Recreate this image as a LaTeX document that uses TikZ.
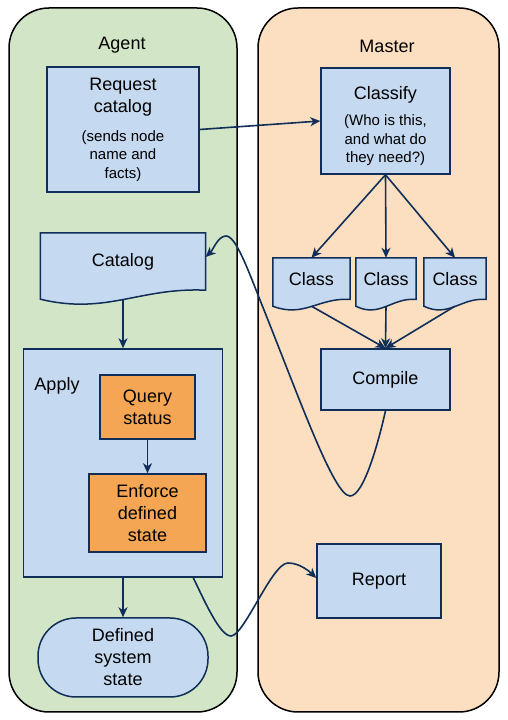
\documentclass[tikz,border=0pt]{standalone}
\usepackage{fontspec}
\setmainfont{Liberation Sans}
\usetikzlibrary{arrows.meta,calc}

\definecolor{navy}{RGB}{16,46,88}
\definecolor{boxblue}{RGB}{197,217,240}
\definecolor{taskorange}{RGB}{244,166,84}
\definecolor{agentgreen}{RGB}{210,230,199}
\definecolor{masterpeach}{RGB}{251,223,192}

\pgfdeclarelayer{panel}
\pgfdeclarelayer{back}
\pgfsetlayers{panel,back,main}

\newcommand\subtext{\fontsize{15}{18.5}\selectfont}

\begin{document}
\begin{tikzpicture}[x=1pt,y=1pt]
  \tikzstyle{every node}=[font=\fontsize{18}{22}\selectfont,align=center,inner sep=0pt]
  \tikzstyle{sidepanel}=[draw=black,line width=1.5pt,rounded corners=40pt,minimum width=228,minimum height=704]
  \tikzstyle{stepbox}=[draw=navy,fill=boxblue,line width=1.5pt]
  \tikzstyle{taskbox}=[stepbox,fill=taskorange]
  \tikzstyle{docline}=[draw=navy,fill=boxblue,line width=1.5pt]
  \tikzstyle{flow}=[draw=navy,line width=1.6pt,-{Stealth[length=10pt,width=9pt,inset=3pt]}]

  \useasboundingbox (0,0) rectangle (508,720);

  \begin{pgfonlayer}{panel}
    \node[sidepanel,fill=agentgreen] (agentside) at (123,360) {};
    \node[sidepanel,fill=masterpeach,minimum width=241] (masterside) at (378.5,360) {};
  \end{pgfonlayer}

  \node (agentlabel) at (122,675) {Agent};
  \node (masterlabel) at (387,674) {Master};

  \node[stepbox,minimum width=152,minimum height=125] (request) at (123,590.5)
    {Request\\catalog\\[7pt]\subtext (sends node\\[-3.5pt]\subtext name and\\[-3.5pt]\subtext facts)};
  \node[stepbox,minimum width=129,minimum height=106] (classify) at (385.5,599)
    {\rule{0pt}{24pt}Classify\\[4pt]\subtext (Who is this,\\[-3.5pt]\subtext and what do\\[-3.5pt]\subtext they need?)};

  \node[minimum width=165,minimum height=58] (catalog) at (123,458) {Catalog};
  \node[minimum width=77,minimum height=42] (classA) at (311.5,441) {Class};
  \node[minimum width=60,minimum height=42] (classB) at (386,441) {Class};
  \node[minimum width=62,minimum height=42] (classC) at (455,441) {Class};

  \node[stepbox,minimum width=129,minimum height=61] (compile) at (385.5,340.5) {Compile};
  \node[stepbox,minimum width=199,minimum height=228] (apply) at (123,257) {};
  \node (applylabel) at (57,334) {Apply};
  \node[taskbox,minimum width=95,minimum height=64] (query) at (147.5,313) {Query\\status};
  \node[taskbox,minimum width=117,minimum height=78] (enforce) at (147.5,207) {Enforce\\defined\\state};
  \node[stepbox,rounded corners=38pt,minimum width=170,minimum height=79] (defined) at (123,62.5)
    {Defined\\system\\state};
  \node[stepbox,minimum width=124,minimum height=74] (report) at (379,139) {Report};

  \begin{pgfonlayer}{back}
    \foreach \n/\s in {catalog/1,classA/0.75,classB/0.75,classC/0.75}
      \draw[docline] (\n.north west) -- (\n.north east) -- ($(\n.south east)+(0,\s)$)
        .. controls ($(\n.south east)!0.4!(\n.south west)+(0,4*\s)$)
        and ($(\n.south east)!0.6!(\n.south west)+(0,-24*\s)$)
        .. ($(\n.south west)+(0,-8*\s)$) -- cycle;
  \end{pgfonlayer}

  \draw[flow] (request.east) -- (classify.west);
  \foreach \c in {classA,classB,classC}
    \draw[flow] (classify.south) -- (\c.north);
  \foreach \c in {classA,classB,classC}
    \draw[flow] ($(\c.south)+(0,-6)$) -- (compile.north);
  \draw[flow] ($(catalog.south)+(0,-8)$) -- (apply.north);
  \draw[flow] (query.south) -- (enforce.north);
  \draw[flow] (apply.south) -- (defined.north);

  \draw[flow] (compile.south) .. controls (379,280) and (364,224) .. (350,224)
    .. controls (334,224) and (300,320) .. (262,415)
    .. controls (248,450) and (236,484) .. (226,484)
    .. controls (218,484) and (213,470) .. ($(catalog.east)+(0,5)$);
  \draw[flow] ($(apply.south east)+(-30,0)$) .. controls (205,118) and (220,84) .. (231,84)
    .. controls (244,84) and (272,157) .. (288,157)
    .. controls (300,157) and (310,148) .. ($(report.west)+(0,3)$);
\end{tikzpicture}
\end{document}
